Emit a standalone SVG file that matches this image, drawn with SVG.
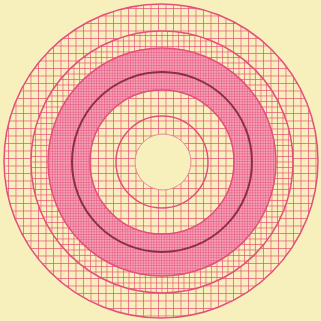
<svg xmlns="http://www.w3.org/2000/svg" width="321" height="321" viewBox="0 0 321 321">
<style>
.bg{fill:#f7f0bd}
.edge{fill:none;stroke:#e2507a;stroke-width:1.5}
</style>
<defs>
<pattern id="g7" patternUnits="userSpaceOnUse" width="7.5" height="7.5" x="0.5" y="0.5">
<path d="M0 0H7.5M0 0V7.5" stroke="#ea4f78" stroke-width="1.4" fill="none"/>
</pattern>
<pattern id="g5" patternUnits="userSpaceOnUse" width="5.5" height="5.5" x="2" y="2">
<path d="M0 0H5.5M0 0V5.5" stroke="#ea4f78" stroke-width="1.3" fill="none"/>
</pattern>
<pattern id="fine" patternUnits="userSpaceOnUse" width="2.6" height="2.6">
<path d="M0 0H2.6M0 0V2.6" stroke="#e4467a" stroke-width="0.9" fill="none"/>
</pattern>
</defs>
<rect width="321" height="321" class="bg"/>
<g id="ring-outer">
<circle cx="161" cy="161" r="157" class="bg"/>
<circle cx="161" cy="161" r="157" fill="url(#g7)"/>
<circle cx="161" cy="161" r="157" class="edge"/>
</g>
<g id="ring-2">
<circle cx="162" cy="162" r="131" class="bg"/>
<circle cx="162" cy="162" r="131" fill="url(#g5)"/>
<circle cx="162" cy="162" r="131" class="edge"/>
</g>
<g id="band-dense">
<circle cx="162" cy="162" r="114" fill="#f4a2b4"/>
<circle cx="162" cy="162" r="114" fill="url(#fine)"/>
<circle cx="162" cy="162" r="114" class="edge"/>
</g>
<g id="ring-inner">
<circle cx="162" cy="162" r="72" class="bg"/>
<circle cx="162" cy="162" r="72" fill="url(#g7)"/>
<circle cx="162" cy="162" r="72" class="edge"/>
<circle cx="162" cy="162" r="46" class="edge"/>
</g>
<g id="hole">
<circle cx="163" cy="162" r="28" class="bg"/>
<circle cx="163" cy="162" r="28" fill="none" stroke="#e88a98" stroke-width="1"/>
</g>
<g id="dark-circle">
<circle cx="162" cy="162" r="90" fill="none" stroke="#8a3048" stroke-width="2"/>
</g>
</svg>
